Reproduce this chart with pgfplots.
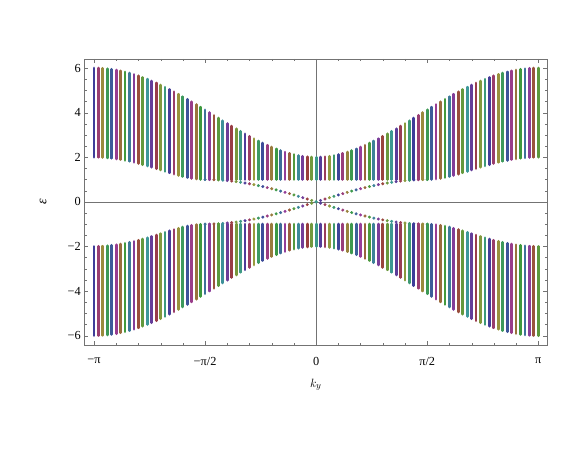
\documentclass[border=0pt]{standalone}
\usepackage{fontspec}
\setmainfont{Liberation Serif}
\usepackage{pgfplots}
\usepackage{pgfplotstable}
\pgfplotsset{compat=1.18}

% bulk bands: x = ky in steps of pi/50, top and bottom of the upper band
\pgfplotstableread{
x top bot
-50 6.000 2.000
-49 5.996 1.997
-48 5.986 1.988
-47 5.968 1.973
-46 5.942 1.953
-45 5.910 1.927
-44 5.871 1.896
-43 5.825 1.859
-42 5.773 1.818
-41 5.714 1.772
-40 5.649 1.721
-39 5.578 1.668
-38 5.501 1.611
-37 5.418 1.551
-36 5.331 1.490
-35 5.238 1.427
-34 5.142 1.364
-33 5.040 1.302
-32 4.935 1.243
-31 4.827 1.186
-30 4.715 1.134
-29 4.601 1.089
-28 4.484 1.051
-27 4.365 1.023
-26 4.245 1.006
-25 4.123 1.000
-24 4.001 1.000
-23 3.878 1.000
-22 3.756 1.000
-21 3.634 1.000
-20 3.513 1.000
-19 3.394 1.000
-18 3.276 1.000
-17 3.160 1.000
-16 3.048 1.000
-15 2.938 1.000
-14 2.832 1.000
-13 2.730 1.000
-12 2.633 1.000
-11 2.540 1.000
-10 2.453 1.000
-9 2.373 1.000
-8 2.298 1.000
-7 2.231 1.000
-6 2.172 1.000
-5 2.121 1.000
-4 2.078 1.000
-3 2.044 1.000
-2 2.020 1.000
-1 2.005 1.000
0 2.000 1.000
1 2.005 1.000
2 2.020 1.000
3 2.044 1.000
4 2.078 1.000
5 2.121 1.000
6 2.172 1.000
7 2.231 1.000
8 2.298 1.000
9 2.373 1.000
10 2.453 1.000
11 2.540 1.000
12 2.633 1.000
13 2.730 1.000
14 2.832 1.000
15 2.938 1.000
16 3.048 1.000
17 3.160 1.000
18 3.276 1.000
19 3.394 1.000
20 3.513 1.000
21 3.634 1.000
22 3.756 1.000
23 3.878 1.000
24 4.001 1.000
25 4.123 1.000
26 4.245 1.006
27 4.365 1.023
28 4.484 1.051
29 4.601 1.089
30 4.715 1.134
31 4.827 1.186
32 4.935 1.243
33 5.040 1.302
34 5.142 1.364
35 5.238 1.427
36 5.331 1.490
37 5.418 1.551
38 5.501 1.611
39 5.578 1.668
40 5.649 1.721
41 5.714 1.772
42 5.773 1.818
43 5.825 1.859
44 5.871 1.896
45 5.910 1.927
46 5.942 1.953
47 5.968 1.973
48 5.986 1.988
49 5.996 1.997
50 6.000 2.000
}\bands

% edge states (both branches are +e and -e)
\pgfplotstableread{
x e
-25 1.000
-24 0.998
-23 0.992
-22 0.982
-21 0.969
-20 0.951
-19 0.930
-18 0.905
-17 0.876
-16 0.844
-15 0.809
-14 0.771
-13 0.729
-12 0.685
-11 0.637
-10 0.588
-9 0.536
-8 0.482
-7 0.426
-6 0.368
-5 0.309
-4 0.249
-3 0.187
-2 0.125
-1 0.063
0 0.000
1 0.063
2 0.125
3 0.187
4 0.249
5 0.309
6 0.368
7 0.426
8 0.482
9 0.536
10 0.588
11 0.637
12 0.685
13 0.729
14 0.771
15 0.809
16 0.844
17 0.876
18 0.905
19 0.930
20 0.951
21 0.969
22 0.982
23 0.992
24 0.998
25 1.000
}\edge

% Mathematica-style hue cycle (S=V=0.6)
\pgfplotsset{
  colormap={mhue}{rgb=(0.6,0.24,0.24) rgb=(0.6,0.6,0.24) rgb=(0.24,0.6,0.24)
    rgb=(0.24,0.6,0.6) rgb=(0.24,0.24,0.6) rgb=(0.6,0.24,0.6) rgb=(0.6,0.24,0.24)},
  huemeta/.style={point meta={mod(0.67+0.236068*(\thisrow{x}+50),1)}},
  bar/.style={quiver={u=0, v=\thisrow{top}-\thisrow{bot}, colored}, -, no markers,
    line width=2.8pt, line cap=round, huemeta},
  dot/.style={scatter, only marks, mark=*, mark size=1.3pt,
    scatter/use mapped color={draw=mapped color, fill=mapped color}, huemeta},
}

\begin{document}
\begin{tikzpicture}
\begin{axis}[
  scale only axis,
  width=463pt, height=286pt,
  xmin=-52.18, xmax=52.03,
  ymin=-6.42, ymax=6.405,
  xtick={-50,-25,0,25,50},
  xticklabels={−π,−π/2,0,π/2,π},
  minor xtick={-45,-40,-35,-30,-20,-15,-10,-5,5,10,15,20,30,35,40,45},
  ytick={-6,-4,-2,0,2,4,6},
  yticklabels={−6,−4,−2,0,2,4,6},
  minor ytick={-5.5,-5,...,5.5},
  axis line style={black!55},
  tick style={black!55},
  major tick length=4pt,
  minor tick length=2.5pt,
  tick label style={font=\fontsize{12.3}{14}\selectfont},
  xticklabel style={yshift=-9pt},
  xlabel={$k_y$},
  ylabel={\itshape ε},
  xlabel style={font=\fontsize{12.5}{14}\selectfont, at={(axis description cs:0.5,-0.147)}, anchor=base},
  ylabel style={font=\fontsize{14}{16}\selectfont, at={(axis description cs:-0.089,0.5)}, anchor=center},
  colormap name=mhue,
  point meta min=0, point meta max=1,
]
\draw[black!55, line width=0.6pt] (axis cs:0,-6.42) -- (axis cs:0,6.405);
\draw[black!55, line width=0.6pt] (axis cs:-52.18,0) -- (axis cs:52.03,0);

\addplot[dot] table[x=x, y=e] {\edge};
\addplot[dot] table[x=x, y expr=-\thisrow{e}] {\edge};

\addplot[bar] table[x=x, y=bot] {\bands};
\addplot[bar] table[x=x, y expr=-\thisrow{top}] {\bands};
\end{axis}
\path ([shift={(-84.3pt,-104pt)}]current axis.south west)
  rectangle ([shift={(33.7pt,59pt)}]current axis.north east);
\end{tikzpicture}
\end{document}
